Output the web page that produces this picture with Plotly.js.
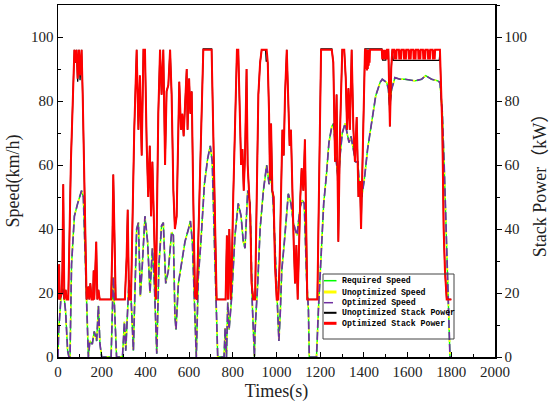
<!DOCTYPE html>
<html>
<head>
<meta charset="utf-8">
<script src="https://cdn.plot.ly/plotly-3.0.1.min.js"></script>
<style>
html,body{margin:0;padding:0;background:#fff;}
#chart{width:550px;height:410px;}
</style>
</head>
<body>
<div id="chart"></div>
<script>
// ---- data ----
const speedTime = [0,3,14,24,35,44,50,55,62,75,
90,108,116,131,139,146,157,166,177,185,
192,200,243,253,261,268,295,304,310,316,
325,334,345,352,360,368,377,386,398,410,
421,432,441,452,462,474,482,493,505,520,
528,535,540,551,566,581,597,606,615,624,
633,642,654,670,685,697,706,715,725,731,
760,765,771,777,783,795,810,825,838,848,
856,868,879,889,899,902,914,925,940,955,
966,975,985,996,1005,1011,1018,1024,1036,1047,
1054,1066,1077,1085,1094,1100,1109,1118,1127,1138,
1146,1150,1183,1192,1204,1216,1228,1240,1253,1262,
1271,1283,1291,1301,1314,1321,1332,1341,1352,1362,
1372,1381,1390,1402,1417,1436,1454,1474,1484,1504,
1512,1518,1527,1542,1565,1588,1610,1634,1664,1683,
1710,1738,1748,1759,1768,1779,1786,1794,1800];

const requiredSpeed = [0,8,19,21.5,14,2,0,0,29,44,
48,52,50,20,0,5,4,8,5,16,
4,0,0,25,13,0,0,11,2,10,
24,19,2,20,40,42,19,29,44,36,
20,34,23,1,29,41,42,23,27,39,
38,13,8.5,23,29,36,40,42.5,36,17,
0,25,36,54,62,66,61,38,14,0,
0,9,0,17,8.5,19,38,48,44,36,
34,52,48,17,0,8.5,23,40,52,60,
54,56.5,48,31,17,5,15,27,36,44,
51,48,42,40,38,42,47,49,48,24,
15,0,0,15,34,48,56.5,67,72,73,
63,55,63,70,73,71,67,69,65,61,
61,52,50,55.5,65,74,81.6,85.8,86.8,85.8,
83.7,78.5,83.7,87.3,86.8,86.8,86.5,86.3,86.8,87.9,
86.8,86.3,85.8,76.4,58.6,34.6,13.7,0,0];

const unoptimizedSpeed = [0,8,19,21.5,14,2,0,0,29,44,
48,52,50,20,0,5,4,8,5,16,
4,0,0,25,13,0,0,11,2,10,
24,19,2,20,40,42,19,29,44,36,
20,34,23,1,29,41,42,23,27,39,
38,13,8.5,23,29,36,40,42.5,36,17,
0,25,36,54,62,66,61,38,14,0,
0,9,0,17,8.5,19,38,48,44,36,
34,52,48,17,0,8.5,23,40,52,60,
54,56.5,48,31,17,5,15,27,36,44,
51,48,42,40,38,42,47,49,48,24,
15,0,0,15,34,48,56.5,67,72,73,
63,55,63,70,73,71,67,69,65,61,
61,52,50,55.5,65,74,81.6,85.8,86.8,85.8,
83.7,78.5,83.7,87.3,86.8,86.8,86.5,86.3,86.8,87.9,
86.8,86.3,85.8,76.4,58.6,34.6,13.7,0,0];

const optimizedSpeed = [0,8,19,21.5,14,2,0,0,29,44,
48,52,50,20,0,5,4,8,5,16,
4,0,0,25,13,0,0,11,2,10,
24,19,2,20,40,42,19,29,44,36,
20,34,23,1,29,41,42,23,27,39,
38,13,8.5,23,29,36,40,42.5,36,17,
0,25,36,54,62,66,61,38,14,0,
0,9,0,17,8.5,19,38,48,44,36,
34,52,48,17,0,8.5,23,40,52,60,
54,56.5,48,31,17,5,15,27,36,44,
51,48,42,40,38,42,47,49,48,24,
15,0,0,15,34,48,56.5,67,72,73,
63,55,63,70,73,71,67,69,65,61,
61,52,50,55.5,65,74,81.6,85.8,86.8,85.8,
83.7,78.5,83.7,87.3,86.8,86.8,86.5,86.3,86.8,87.9,
86.8,86.3,85.8,76.4,58.6,34.6,13.7,0,0];

// [time (s), stack power (kW)]
const unoptimizedStackPower = [
[0,18],[2,23],[5,29],[8,18],[17,20],[20,27],[24,54],[29,18],[35,21],[40,18],
[47,18],[59,61],[70,89],[75,96],[81,92],[85,96],[90,86],[96,96],[101,86.5],[108,96],
[113,82],[124,42],[131,18],[139,22],[143,18],[148,23],[154,18],[160,18],[163,27],[166,18],
[175,36],[180,18],[185,21],[191,18],[243,18],[249,36],[253,57],[258,40],[264,18],[306,18],
[314,31],[319,46],[325,18],[334,18],[340,40],[349,71],[360,96],[368,71],[375,88],[383,63],
[391,96],[398,96],[406,66],[413,50],[420,66],[426,44],[432,61],[441,31],[448,18],[452,40],
[459,76],[467,96],[474,82],[482,96],[490,60],[497,83],[505,85],[513,96],[520,82],[528,52],
[535,40],[543,44],[551,82],[555,86],[563,71],[569,76],[575,69],[581,78.5],[589,90],[593,71],
[600,87],[606,76],[612,83],[619,50],[627,19],[635,18],[639,29],[645,50],[654,71],[665,96.3],
[703,96.3],[711,71],[719,38],[726,18],[767,18],[773,38],[778,18],[784,40],[790,18],[796,30],
[802,50],[813,87],[819,96],[825,96],[833,71],[838,60],[844,65],[850,52],[856,63],[863,90],
[868,60],[874,50],[880,44],[886,23],[894,18],[902,18],[909,50],[917,82],[925,92],[932,96],
[950,96],[953,92.5],[957,92.5],[960,92],[966,76],[970,55.5],[975,73],[981,52],[987,50],[993,29],[1001,18],[1008,18],
[1014,29],[1021,52],[1027,71],[1033,63],[1039,82],[1047,96],[1054,82],[1060,66],[1066,71],[1072,50],
[1079,35],[1085,23],[1091,35],[1097,18],[1103,40],[1109,50],[1115,59],[1123,52],[1130,68],[1135,48],
[1141,18],[1187,18],[1195,50],[1204,96.3],[1253,96.3],[1260,92],[1268,61],[1275,82],[1283,36],[1291,71],
[1301,96],[1310,96],[1317,87],[1323,71],[1329,84],[1336,71],[1344,96],[1352,71],[1359,61],[1367,75],
[1375,50],[1382,55],[1387,40],[1393,61],[1399,85],[1405,96.3],[1482,96.3],[1486,92.8],[1500,92.8],[1505,96],
[1512,96],[1519,72],[1525,90],[1530,96],[1534,92.7],[1745,92.7],[1748,95],[1759,71],[1765,40],[1771,27],
[1779,18],[1800,18]];

const optimizedStackPower = [
[0,18],[2,23],[5,29],[8,18],[17,20],[20,27],[24,54],[29,18],[35,21],[40,18],
[47,18],[59,61],[70,89],[75,96],[81,92],[85,96],[90,87],[96,96],[101,88],[108,96],
[113,82],[124,42],[131,18],[139,22],[143,18],[148,23],[154,18],[160,18],[163,27],[166,18],
[175,36],[180,18],[185,21],[191,18],[243,18],[249,36],[253,57],[258,40],[264,18],[306,18],
[314,31],[319,46],[325,18],[334,18],[340,40],[349,71],[360,96],[368,71],[375,88],[383,63],
[391,96],[398,96],[406,66],[413,50],[420,66],[426,44],[432,61],[441,31],[448,18],[452,40],
[459,76],[467,96],[474,82],[482,96],[490,60],[497,83],[505,85],[513,96],[520,82],[528,52],
[535,40],[543,44],[551,82],[555,86],[563,71],[569,76],[575,69],[581,78.5],[589,90],[593,71],
[600,87],[606,76],[612,83],[619,50],[627,19],[635,18],[639,29],[645,50],[654,71],[665,96],
[703,96],[711,71],[719,38],[726,18],[767,18],[773,38],[778,18],[784,40],[790,18],[796,30],
[802,50],[813,87],[819,96],[825,96],[833,71],[838,60],[844,65],[850,52],[856,63],[863,90],
[868,60],[874,50],[880,44],[886,23],[894,18],[902,18],[909,50],[917,82],[925,92],[932,96],
[955,96],[960,92],[966,76],[970,55.5],[975,73],[981,52],[987,50],[993,29],[1001,18],[1008,18],
[1014,29],[1021,52],[1027,71],[1033,63],[1039,82],[1047,96],[1054,82],[1060,66],[1066,71],[1072,50],
[1079,35],[1085,23],[1091,35],[1097,18],[1103,40],[1109,50],[1115,59],[1123,52],[1130,68],[1135,48],
[1141,18],[1187,18],[1195,50],[1204,96],[1253,96],[1260,92],[1268,61],[1275,82],[1283,36],[1291,71],
[1301,96],[1310,96],[1317,87],[1323,71],[1329,84],[1336,71],[1344,96],[1352,71],[1359,61],[1367,75],
[1375,50],[1382,55],[1387,40],[1393,61],[1399,85],[1405,96],[1408,96],[1410,90],[1412,96],[1414,89.5],
[1416,96],[1418,90],[1420,96],[1422,91],[1424,96],[1426,92],[1428,96],[1482,96],[1484,93],[1486,96],
[1488,93],[1490,96],[1492,93],[1494,96],[1496,93],[1498,96],[1500,93],[1502,96],[1504,93],[1506,96],
[1512,96],[1519,72],[1525,90],[1530,96],
[1538,96],[1540,93],[1542,96],[1544,93],[1546,96],[1548,93],[1550,96],
[1560,96],[1562,93],[1564,96],[1566,93],[1568,96],[1570,93],[1572,96],
[1582,96],[1584,93],[1586,96],[1588,93],[1590,96],[1592,93],[1594,96],
[1604,96],[1606,93],[1608,96],[1610,93],[1612,96],[1614,93],[1616,96],
[1626,96],[1628,93],[1630,96],[1632,93],[1634,96],[1636,93],[1638,96],
[1648,96],[1650,93],[1652,96],[1654,93],[1656,96],[1658,93],[1660,96],
[1670,96],[1672,93],[1674,96],[1676,93],[1678,96],[1680,93],[1682,96],
[1692,96],[1694,93],[1696,96],[1698,93],[1700,96],[1702,93],[1704,96],
[1714,96],[1716,93],[1718,96],[1720,93],[1722,96],[1724,93],[1726,96],
[1748,96],[1759,71],[1765,40],[1771,27],[1779,18],[1800,18]];

const seriesNames = ["Required Speed","Unoptimized Speed","Optimized Speed","Unoptimized Stack Power","Optimized Stack Power"];
const seriesColors = ["#00ff00","#ffff00","#7030a0","#000000","#ff0000"];
const xTickLabels = ["0","200","400","600","800","1000","1200","1400","1600","1800","2000"];
const yTickLabels = ["0","20","40","60","80","100"];

// ---- traces ----
const traces = [
  {x: speedTime, y: requiredSpeed, name: seriesNames[0], mode: "lines",
   line: {color: seriesColors[0], width: 1.4}, yaxis: "y"},
  {x: speedTime, y: unoptimizedSpeed, name: seriesNames[1], mode: "lines",
   line: {color: seriesColors[1], width: 1.7, dash: "0px,8px,2px,2px"}, yaxis: "y"},
  {x: speedTime, y: optimizedSpeed, name: seriesNames[2], mode: "lines",
   line: {color: seriesColors[2], width: 1.7, dash: "8px,4px"}, yaxis: "y"},
  {x: unoptimizedStackPower.map(p => p[0]), y: unoptimizedStackPower.map(p => p[1]),
   name: seriesNames[3], mode: "lines", line: {color: seriesColors[3], width: 1.3}, yaxis: "y2"},
  {x: optimizedStackPower.map(p => p[0]), y: optimizedStackPower.map(p => p[1]),
   name: seriesNames[4], mode: "lines", line: {color: seriesColors[4], width: 2}, yaxis: "y2"}
];

const tickFont = {family: "'Liberation Serif', 'Times New Roman', serif", size: 15, color: "#222"};
const titleFont = {family: "'Liberation Serif', 'Noto Sans CJK SC', serif", size: 18, color: "#222"};

const xTickVals = xTickLabels.map(Number);
const yTickVals = yTickLabels.map(Number);

// ---- manual legend (Origin-style) ----
const L = 58, W = 437, B = 357, H = 352;
const px = v => (v - L) / W;
const py = v => (B - v) / H;
const rowY = [280.7, 292, 302.7, 312.8, 323.3];
const sampleStyle = [
  {width: 1.5, dash: "solid"},
  {width: 3, dash: "solid"},
  {width: 1.5, dash: "dash"},
  {width: 2, dash: "solid"},
  {width: 3, dash: "solid"}
];
const shapes = [{
  type: "rect", xref: "paper", yref: "paper",
  x0: px(323), x1: px(454), y0: py(339), y1: py(274),
  line: {color: "#444", width: 1}, fillcolor: "rgba(255,255,255,0)"
}];
const annotations = [];
seriesNames.forEach((n, i) => {
  shapes.push({type: "line", xref: "paper", yref: "paper",
    x0: px(324), x1: px(336.5), y0: py(rowY[i]), y1: py(rowY[i]),
    line: {color: seriesColors[i], width: sampleStyle[i].width, dash: sampleStyle[i].dash}});
  annotations.push({xref: "paper", yref: "paper", x: px(339.5), y: py(rowY[i]),
    xanchor: "left", yanchor: "middle", showarrow: false, text: n,
    font: {family: "'Liberation Mono', monospace", size: 8.2, color: "#000", weight: "bold"}});
});

const layout = {
  width: 550, height: 410,
  margin: {l: 58, r: 55, t: 5, b: 53},
  paper_bgcolor: "#fff", plot_bgcolor: "#fff",
  showlegend: false,
  xaxis: {
    range: [0, 2000], tickvals: xTickVals, ticktext: xTickLabels,
    ticks: "inside", ticklen: 5, tickwidth: 1, tickcolor: "#000",
    minor: {tickvals: [100,300,500,700,900,1100,1300,1500,1700,1900], ticks: "inside", ticklen: 3, tickcolor: "#000"},
    showline: true, linecolor: "#000", linewidth: 1.5, mirror: true,
    showgrid: false, zeroline: false, tickfont: tickFont,
    title: {text: "Times(s)", font: titleFont, standoff: 6}
  },
  yaxis: {
    range: [0, 110], tickvals: yTickVals, ticktext: yTickLabels,
    ticks: "inside", ticklen: 5, tickwidth: 1, tickcolor: "#000",
    minor: {tickvals: [10,30,50,70,90,110], ticks: "inside", ticklen: 3, tickcolor: "#000"},
    showline: true, linecolor: "#000", linewidth: 1.5,
    showgrid: false, zeroline: false, tickfont: tickFont,
    title: {text: "Speed(km/h)", font: titleFont, standoff: 6}
  },
  yaxis2: {
    overlaying: "y", side: "right", anchor: "x",
    range: [0, 110], tickvals: yTickVals, ticktext: yTickLabels,
    ticks: "outside", ticklen: 5, tickwidth: 1, tickcolor: "#000",
    minor: {tickvals: [10,30,50,70,90,110], ticks: "outside", ticklen: 3, tickcolor: "#000"},
    showline: true, linecolor: "#000", linewidth: 1.5,
    showgrid: false, zeroline: false, tickfont: tickFont,
    title: {text: "Stack Power（kW）", font: titleFont, standoff: 8}
  },
  shapes: shapes,
  annotations: annotations
};

Plotly.newPlot("chart", traces, layout, {staticPlot: true, displayModeBar: false});
</script>
</body>
</html>
